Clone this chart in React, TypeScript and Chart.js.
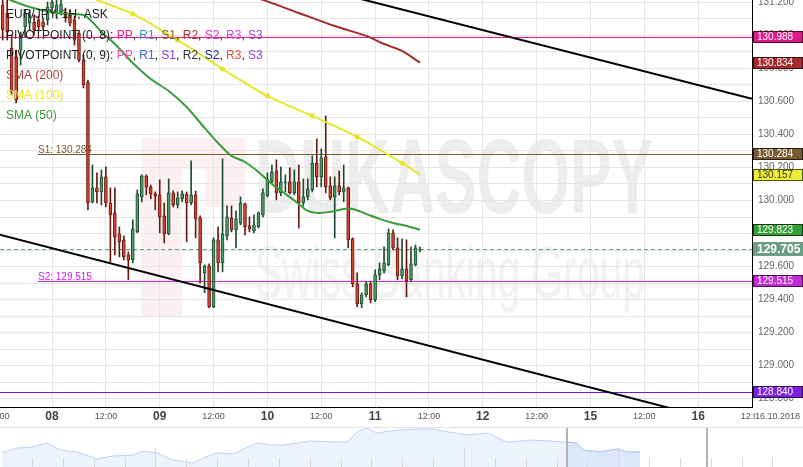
import React, { useEffect, useRef } from 'react';
import { Chart, registerables } from 'chart.js';

Chart.register(...registerables);

const FONT = '"Liberation Sans", Arial, Helvetica, sans-serif';

// ---- Hourly EUR/JPY candles, hours counted from 08 Oct 00:00 (weekend removed) ----
const firstHour = -11;
const opens = [
  131.183, 131.135, 130.923, 130.869, 130.911, 131.050, 131.074, 131.080, 131.093, 131.080,
  131.093, 131.165, 131.129, 131.141, 131.141, 131.123, 131.093, 131.014, 130.851, 130.717,
  129.992, 130.076, 130.052, 130.143, 129.985, 129.925, 129.798, 129.762, 129.671, 129.641,
  129.810, 130.022, 130.149, 130.082, 130.040, 130.034, 129.907, 129.798, 130.046, 129.973,
  130.010, 130.040, 129.985, 130.034, 129.895, 129.562, 129.604, 129.356, 129.762, 129.622,
  129.786, 129.895, 129.822, 129.864, 129.979, 129.846, 129.816, 129.840, 129.913, 130.028,
  130.113, 130.179, 130.046, 130.106, 130.113, 130.046, 130.113, 129.985, 130.022, 130.064,
  130.227, 130.143, 130.264, 130.088, 130.022, 130.088, 130.052, 130.076, 129.768, 129.495,
  129.374, 129.429, 129.495, 129.399, 129.550, 129.574, 129.610, 129.804, 129.713, 129.544,
  129.586, 129.520, 129.610, 129.700,
];
const highs = [
  131.220, 131.220, 131.002, 130.911, 131.020, 131.153, 131.153, 131.123, 131.117, 131.105,
  131.201, 131.220, 131.220, 131.220, 131.165, 131.153, 131.117, 131.032, 130.881, 130.729,
  130.215, 130.167, 130.185, 130.203, 130.076, 130.076, 129.840, 129.786, 129.689, 129.883,
  130.064, 130.155, 130.155, 130.094, 130.052, 130.125, 129.985, 130.131, 130.058, 130.052,
  130.058, 130.052, 130.240, 130.058, 129.907, 129.610, 129.616, 129.774, 129.840, 130.252,
  129.967, 129.967, 129.937, 130.022, 129.985, 129.901, 129.913, 129.931, 130.070, 130.167,
  130.215, 130.246, 130.203, 130.155, 130.197, 130.185, 130.215, 130.131, 130.131, 130.270,
  130.373, 130.312, 130.512, 130.143, 130.143, 130.179, 130.215, 130.082, 129.774, 129.562,
  129.441, 129.508, 129.508, 129.580, 129.622, 129.719, 129.828, 129.822, 129.774, 129.768,
  129.762, 129.719, 129.731, 129.719,
];
const lows = [
  130.971, 130.971, 130.639, 130.590, 130.820, 130.990, 131.032, 131.002, 131.032, 131.032,
  131.062, 131.141, 131.105, 131.123, 131.080, 131.056, 130.941, 130.839, 130.681, 129.943,
  129.985, 129.985, 129.973, 129.961, 129.629, 129.671, 129.659, 129.641, 129.520, 129.622,
  129.804, 129.992, 130.034, 130.010, 129.943, 129.804, 129.743, 129.792, 129.961, 129.955,
  129.992, 129.750, 129.973, 129.774, 129.501, 129.441, 129.350, 129.350, 129.568, 129.568,
  129.762, 129.810, 129.713, 129.852, 129.792, 129.810, 129.804, 129.834, 129.901, 130.022,
  130.106, 130.004, 130.028, 130.052, 130.040, 130.034, 129.834, 129.967, 130.004, 130.052,
  130.082, 130.082, 130.046, 130.004, 129.774, 130.034, 129.992, 129.713, 129.477, 129.356,
  129.350, 129.417, 129.380, 129.387, 129.520, 129.562, 129.604, 129.701, 129.520, 129.526,
  129.417, 129.508, 129.604, 129.689,
];
const closes = [
  131.032, 131.020, 130.657, 130.609, 131.002, 131.135, 131.123, 131.032, 131.050, 131.050,
  131.171, 131.201, 131.183, 131.189, 131.105, 131.074, 130.971, 130.851, 130.699, 129.985,
  130.076, 130.052, 130.143, 129.985, 129.913, 129.780, 129.750, 129.659, 129.641, 129.828,
  130.040, 130.149, 130.082, 130.040, 130.028, 129.901, 129.798, 130.046, 129.973, 130.016,
  130.040, 129.985, 130.034, 129.889, 129.622, 129.604, 129.356, 129.762, 129.622, 129.798,
  129.901, 129.822, 129.889, 129.985, 129.840, 129.828, 129.852, 129.925, 130.046, 130.131,
  130.173, 130.046, 130.113, 130.113, 130.046, 130.113, 129.985, 130.022, 130.070, 130.227,
  130.143, 130.258, 130.082, 130.016, 130.088, 130.052, 130.076, 129.762, 129.495, 129.374,
  129.429, 129.495, 129.399, 129.550, 129.586, 129.622, 129.804, 129.713, 129.544, 129.586,
  129.514, 129.616, 129.713, 129.705,
];
const candleHours = opens.map((_, i) => firstHour + i);

// ---- Moving averages ----
const sma50Hours = [-11, -5, 1, 7, 9, 11, 14, 18, 22, 26, 30, 34, 37, 40, 43, 46, 49, 52, 55, 57, 59, 62, 65, 67, 70, 73, 76, 79, 82];
const sma50Values = [131.232, 131.171, 131.135, 131.123, 131.080, 131.020, 130.947, 130.832, 130.735, 130.663, 130.566, 130.439, 130.348, 130.270, 130.233, 130.173, 130.100, 130.040, 129.979, 129.937, 129.925, 129.931, 129.949, 129.949, 129.919, 129.889, 129.864, 129.846, 129.823];
const sma100Hours = [6, 10, 18, 28, 38, 48, 58, 68, 78, 82];
const sma100Values = [131.274, 131.214, 131.129, 130.971, 130.796, 130.633, 130.512, 130.385, 130.227, 130.157];
const sma100Dots = [false, false, true, true, true, true, true, true, true, false];
const sma200Hours = [44, 47, 55, 63, 70, 74, 78, 82];
const sma200Values = [131.238, 131.214, 131.135, 131.056, 130.996, 130.947, 130.905, 130.834];

// ---- Channel trend lines ----
const upperTrendHours = [64, 156];
const upperTrendValues = [131.253, 130.615];
const lowerTrendHours = [-12, 156];
const lowerTrendValues = [129.795, 128.615];

// ---- Horizontal levels ----
const levelValues = [130.988, 130.284, 129.515, 128.840];
const levelColors = ['#ee1188', '#7a5a28', '#d41ee6', '#7a18ea'];
const levelLabels = ['', 'S1: 130.284', 'S2: 129.515', ''];
const levelStartsAtLabel = [false, true, true, false];
const currentPrice = 129.705;

// ---- Right-hand value boxes ----
const boxValues = [130.988, 130.834, 130.284, 130.157, 129.823, 129.515, 128.840];
const boxColors = ['#e0188a', '#a8282b', '#7a5a2e', '#eeee33', '#35a035', '#c42bd8', '#7b1fe0'];
const boxTextColors = ['#fff', '#fff', '#fff', '#333', '#fff', '#fff', '#fff'];

// ---- Axis ticks ----
const xTickHours = [-12, 0, 12, 24, 36, 48, 60, 72, 84, 96, 108, 120, 132, 144, 156];
const xTickLabels = ['12:00', '08', '12:00', '09', '12:00', '10', '12:00', '11', '12:00', '12', '12:00', '15', '12:00', '16', '12:00'];
const yTickLabels = ['128.800', '129.000', '129.200', '129.400', '129.600', '129.800', '130.000', '130.200', '130.400', '130.600', '130.800', '131.000', '131.200'];
const yGridValues = [128.8, 128.9, 129.0, 129.1, 129.2, 129.3, 129.4, 129.5, 129.6, 129.7, 129.8, 129.9, 130.0, 130.1, 130.2, 130.3, 130.4, 130.5, 130.6, 130.7, 130.8, 130.9, 131.0, 131.1, 131.2];
const dateLabel = '16.10.2018';

// ---- Legend ----
const legendLines: [string, string][][] = [
  [['EUR/JPY, 1H, ASK', '#222']],
  [['PIVOTPOINT (0, 8): ', '#222'], ['PP', '#ec1c8c'], [', ', '#222'], ['R1', '#3b8ee6'], [', ', '#222'], ['S1', '#7a5c2e'], [', ', '#222'], ['R2', '#b03434'], [', ', '#222'], ['S2', '#cc33cc'], [', ', '#222'], ['R3', '#e040e0'], [', ', '#222'], ['S3', '#9a40e0']],
  [['PIVOTPOINT (0, 9): ', '#222'], ['PP', '#f050a0'], [', ', '#222'], ['R1', '#4a5af0'], [', ', '#222'], ['S1', '#8a3ae8'], [', ', '#222'], ['R2', '#333'], [', ', '#222'], ['S2', '#1a2a8a'], [', ', '#222'], ['R3', '#f04a3a'], [', ', '#222'], ['S3', '#9a40d8']],
  [['SMA (200)', '#b04040']],
  [['SMA (100)', '#e8e820']],
  [['SMA (50)', '#3a9a3a']],
];

// ---- Navigator (overview) ----
const navDays = [0.03, 0.12, 0.51, 1.0, 1.48, 1.91, 2.46, 3.11, 3.6, 4.27, 4.6, 5.05, 5.57, 6.22, 6.54, 6.99, 7.51, 8.29, 8.7, 9.14, 9.59, 10.01, 10.76, 11.21, 11.53, 11.86, 12.18, 12.6, 12.93, 13.5, 14.0, 14.5, 15.1, 15.75, 16.4, 17.24, 17.8, 18.21, 18.34, 18.66, 18.86, 19.41, 19.96, 20.29, 20.71];
const navValues = [15, 15, 19, 20, 24, 17, 15, 8, 11, 12, 16, 14, 7, 4, 9, 14, 13, 24, 22, 22, 24, 26, 25, 25, 35, 39, 34, 36, 37, 38, 38, 35, 32, 34, 25, 27, 26, 25, 25, 24, 17, 15, 18, 15, 15];
const navWindow = [18.34, 22.88];
const navTallTicks = [5, 15, 20];

const RED_FILL = '#d2452f';
const RED_EDGE = '#6b1a12';
const GREEN_FILL = '#4f9a6c';
const GREEN_EDGE = '#1d4d2e';

const isUp = (i: number) => closes[i] >= opens[i];

const decorPlugin = {
  id: 'decor',
  beforeDraw(chart: any) {
    const ctx = chart.ctx;
    ctx.save();
    // logo block
    ctx.fillStyle = '#fcf0f2';
    ctx.fillRect(141, 138, 41, 179);
    ctx.fillRect(182, 138, 63, 31);
    ctx.fillRect(205, 169, 40, 38);
    // DUKASCOPY
    ctx.fillStyle = '#ededed';
    ctx.font = `bold 100px ${FONT}`;
    ctx.textBaseline = 'alphabetic';
    ctx.textAlign = 'left';
    let w = ctx.measureText('DUKASCOPY').width;
    ctx.save();
    ctx.translate(255, 213);
    ctx.scale(398 / w, 1.05);
    ctx.fillText('DUKASCOPY', 0, 0);
    ctx.restore();
    ctx.fillStyle = '#f2f2f2';
    ctx.font = `74px ${FONT}`;
    w = ctx.measureText('Swiss Banking Group').width;
    ctx.save();
    ctx.translate(255, 298);
    ctx.scale(390 / w, 1);
    ctx.fillText('Swiss Banking Group', 0, 0);
    ctx.restore();
    ctx.restore();
  },
  beforeDatasetsDraw(chart: any) {
    const ctx = chart.ctx;
    const ys = chart.scales.y;
    const area = chart.chartArea;
    ctx.save();
    levelValues.forEach((v, i) => {
      const y = Math.round(ys.getPixelForValue(v)) + 0.5;
      const x0 = levelStartsAtLabel[i] ? area.left + 38 : area.left;
      ctx.strokeStyle = levelColors[i];
      ctx.lineWidth = 1.2;
      ctx.beginPath();
      ctx.moveTo(x0, y);
      ctx.lineTo(area.right, y);
      ctx.stroke();
      if (levelLabels[i]) {
        ctx.fillStyle = levelColors[i];
        ctx.font = `10px ${FONT}`;
        ctx.textAlign = 'left';
        ctx.textBaseline = 'alphabetic';
        ctx.fillText(levelLabels[i], x0, y - 2);
      }
    });
    const yc = Math.round(ys.getPixelForValue(currentPrice)) + 0.5;
    ctx.strokeStyle = '#6b9e84';
    ctx.lineWidth = 1;
    ctx.setLineDash([4, 3]);
    ctx.beginPath();
    ctx.moveTo(area.left, yc);
    ctx.lineTo(area.right, yc);
    ctx.stroke();
    ctx.setLineDash([]);
    ctx.restore();
  },
  afterDraw(chart: any) {
    const ctx = chart.ctx;
    const ys = chart.scales.y;
    const xs = chart.scales.x;
    const area = chart.chartArea;
    ctx.save();
    // y tick labels
    ctx.font = `10px ${FONT}`;
    ctx.fillStyle = '#666';
    ctx.textAlign = 'left';
    ctx.textBaseline = 'middle';
    yTickLabels.forEach((t) => {
      const y = ys.getPixelForValue(parseFloat(t));
      ctx.fillText(t, area.right + 6, y);
    });
    // value boxes
    boxValues.forEach((v, i) => {
      const y = Math.round(ys.getPixelForValue(v));
      ctx.fillStyle = boxColors[i];
      ctx.fillRect(area.right + 1, y - 6, 50, 12);
      ctx.strokeStyle = 'rgba(0,0,0,0.65)';
      ctx.lineWidth = 1;
      ctx.strokeRect(area.right + 1.5, y - 5.5, 49, 11);
      ctx.fillStyle = boxTextColors[i];
      ctx.font = `10px ${FONT}`;
      ctx.textBaseline = 'middle';
      ctx.fillText(v.toFixed(3), area.right + 5, y + 0.5);
    });
    const yc = Math.round(ys.getPixelForValue(currentPrice));
    ctx.fillStyle = '#6b9e84';
    ctx.fillRect(area.right + 1, yc - 7, 51, 14);
    ctx.fillStyle = '#fff';
    ctx.font = `bold 12px ${FONT}`;
    ctx.fillText(currentPrice.toFixed(3), area.right + 5, yc + 0.5);
    // x labels
    ctx.textAlign = 'center';
    ctx.textBaseline = 'middle';
    xTickHours.forEach((h, i) => {
      const x = xs.getPixelForValue(h);
      const lab = xTickLabels[i];
      if (lab.length === 2) {
        ctx.font = `bold 12px ${FONT}`;
        ctx.fillStyle = '#444';
      } else {
        ctx.font = `9px ${FONT}`;
        ctx.fillStyle = '#555';
      }
      ctx.fillText(lab, x, area.bottom + 10);
    });
    ctx.fillStyle = '#fff';
    ctx.fillRect(area.right + 3, area.bottom + 2, 60, 16);
    ctx.fillStyle = '#555';
    ctx.font = `9px ${FONT}`;
    ctx.textAlign = 'left';
    ctx.fillText(dateLabel, area.right + 3, area.bottom + 10);
    // legend
    ctx.font = `12px ${FONT}`;
    ctx.textBaseline = 'middle';
    ctx.textAlign = 'left';
    legendLines.forEach((segs, li) => {
      let x = 6;
      const y = 15 + li * 20.2;
      segs.forEach(([text, color]) => {
        ctx.fillStyle = color;
        ctx.fillText(text, x, y);
        x += ctx.measureText(text).width;
      });
    });
    ctx.restore();
  },
};

const navPlugin = {
  id: 'navDecor',
  afterDatasetsDraw(chart: any) {
    const ctx = chart.ctx;
    const xs = chart.scales.x;
    const h = chart.height;
    ctx.save();
    ctx.strokeStyle = '#e2e2e2';
    ctx.lineWidth = 1;
    ctx.beginPath();
    ctx.moveTo(0, 0.5);
    ctx.lineTo(chart.width, 0.5);
    ctx.stroke();
    ctx.strokeStyle = '#d9d9d9';
    for (let d = 1; d <= 25; d++) {
      const x = Math.round(xs.getPixelForValue(d)) + 0.5;
      const top = navTallTicks.includes(d) ? 20 : 31;
      ctx.beginPath();
      ctx.moveTo(x, top);
      ctx.lineTo(x, h);
      ctx.stroke();
    }
    ctx.strokeStyle = '#b4b4b4';
    ctx.lineWidth = 2;
    navWindow.forEach((d) => {
      const x = Math.round(xs.getPixelForValue(d));
      ctx.beginPath();
      ctx.moveTo(x, 1);
      ctx.lineTo(x, h);
      ctx.stroke();
    });
    ctx.restore();
  },
};

function mainConfig(): any {
  return {
    type: 'line',
    data: {
      datasets: [
        {
          type: 'line',
          label: 'SMA (200)',
          data: sma200Hours.map((h, i) => ({ x: h, y: sma200Values[i] })),
          borderColor: '#a52a2a',
          borderWidth: 2,
          pointRadius: 0,
          tension: 0.3,
          clip: 0,
          order: 1,
        },
        {
          type: 'line',
          label: 'SMA (100)',
          data: sma100Hours.map((h, i) => ({ x: h, y: sma100Values[i] })),
          borderColor: '#e6e62c',
          backgroundColor: '#e6e62c',
          pointBackgroundColor: '#e6e62c',
          pointBorderWidth: 0,
          borderWidth: 2,
          pointRadius: sma100Dots.map((d) => (d ? 2.6 : 0)),
          tension: 0.3,
          clip: 0,
          order: 1,
        },
        {
          type: 'line',
          label: 'SMA (50)',
          data: sma50Hours.map((h, i) => ({ x: h, y: sma50Values[i] })),
          borderColor: '#3a9d3a',
          borderWidth: 2,
          pointRadius: 0,
          tension: 0.3,
          clip: 0,
          order: 1,
        },
        {
          type: 'line',
          label: 'upper',
          data: upperTrendHours.map((h, i) => ({ x: h, y: upperTrendValues[i] })),
          borderColor: '#000',
          borderWidth: 2,
          pointRadius: 0,
          clip: 0,
          order: 2,
        },
        {
          type: 'line',
          label: 'lower',
          data: lowerTrendHours.map((h, i) => ({ x: h, y: lowerTrendValues[i] })),
          borderColor: '#000',
          borderWidth: 2,
          pointRadius: 0,
          clip: 0,
          order: 2,
        },
        {
          type: 'bar',
          label: 'bodies',
          data: candleHours.map((h, i) => ({ x: h, y: [opens[i], closes[i]] })),
          backgroundColor: candleHours.map((_, i) => (isUp(i) ? GREEN_FILL : RED_FILL)),
          borderColor: candleHours.map((_, i) => (isUp(i) ? GREEN_EDGE : RED_EDGE)),
          borderWidth: 1,
          borderSkipped: false,
          barThickness: 3,
          minBarLength: 1,
          grouped: false,
          clip: 0,
          order: 3,
        },
        {
          type: 'bar',
          label: 'wicks',
          data: candleHours.map((h, i) => ({ x: h, y: [lows[i], highs[i]] })),
          backgroundColor: candleHours.map((_, i) => (isUp(i) ? GREEN_EDGE : RED_EDGE)),
          borderWidth: 0,
          barThickness: 1,
          grouped: false,
          clip: 0,
          order: 4,
        },
      ],
    },
    options: {
      responsive: false,
      animation: false,
      devicePixelRatio: 1,
      events: [],
      layout: { padding: 0 },
      plugins: { legend: { display: false }, tooltip: { enabled: false } },
      scales: {
        x: {
          type: 'linear',
          min: -11.6,
          max: 156,
          offset: false,
          grid: { color: '#e6e6e6', drawTicks: false, offset: false },
          border: { color: '#000', width: 1 },
          ticks: { display: false },
          afterBuildTicks: (s: any) => {
            s.ticks = xTickHours.map((v) => ({ value: v }));
          },
          afterFit: (s: any) => {
            s.height = 20;
          },
        },
        y: {
          type: 'linear',
          position: 'right',
          min: 128.75,
          max: 131.2135,
          beginAtZero: false,
          grid: { color: '#e6e6e6', drawTicks: false },
          border: { color: '#000', width: 1 },
          ticks: { display: false },
          afterBuildTicks: (s: any) => {
            s.ticks = yGridValues.map((v) => ({ value: v }));
          },
          afterFit: (s: any) => {
            s.width = 51;
          },
        },
      },
    },
    plugins: [decorPlugin],
  };
}

function navConfig(): any {
  const selIdx = navDays.map((d, i) => (d >= navWindow[0] ? i : -1)).filter((i) => i >= 0);
  return {
    type: 'line',
    data: {
      datasets: [
        {
          data: selIdx.map((i) => ({ x: navDays[i], y: navValues[i] })),
          fill: 'origin',
          backgroundColor: '#dde8fb',
          borderColor: '#a9c6f2',
          borderWidth: 1,
          pointRadius: 0,
          order: 1,
        },
        {
          data: navDays.map((d, i) => ({ x: d, y: navValues[i] })),
          fill: 'origin',
          backgroundColor: '#edf3fd',
          borderColor: '#bcd3f5',
          borderWidth: 1,
          pointRadius: 0,
          order: 2,
        },
      ],
    },
    options: {
      responsive: false,
      animation: false,
      devicePixelRatio: 1,
      events: [],
      layout: { padding: 0 },
      plugins: { legend: { display: false }, tooltip: { enabled: false } },
      scales: {
        x: { type: 'linear', display: false, min: -0.04, max: 25.99 },
        y: { type: 'linear', display: false, min: 0, max: 40 },
      },
    },
    plugins: [navPlugin],
  };
}

export default function App() {
  const mainRef = useRef<HTMLCanvasElement>(null);
  const navRef = useRef<HTMLCanvasElement>(null);
  useEffect(() => {
    const main = new Chart(mainRef.current as HTMLCanvasElement, mainConfig());
    const nav = new Chart(navRef.current as HTMLCanvasElement, navConfig());
    return () => {
      main.destroy();
      nav.destroy();
    };
  }, []);
  return (
    <div style={{ position: 'absolute', left: 0, top: 0, width: 803, height: 467, background: '#fff' }}>
      <canvas ref={mainRef} width={803} height={427} style={{ display: 'block' }} />
      <canvas ref={navRef} width={803} height={40} style={{ display: 'block' }} />
    </div>
  );
}
